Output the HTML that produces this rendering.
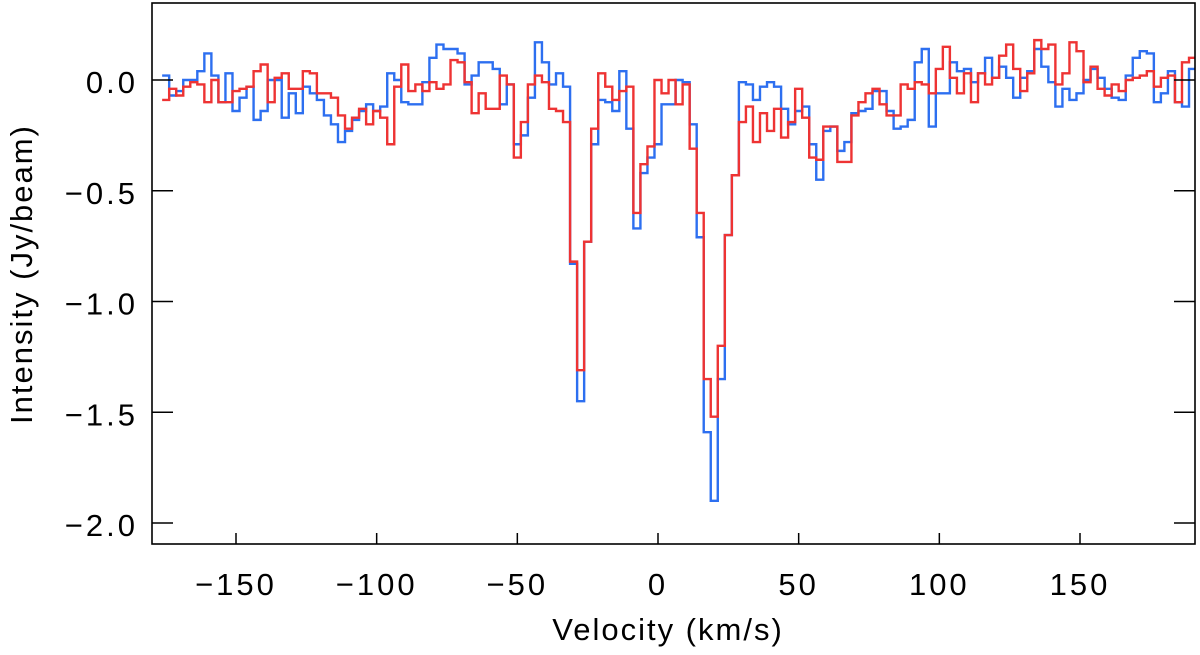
<!DOCTYPE html>
<html><head><meta charset="utf-8"><style>
html,body{margin:0;padding:0;background:#fff;}
svg text{font-family:"Liberation Sans","DejaVu Sans",sans-serif;fill:#000;}
</style></head><body>
<svg id="chart" width="1200" height="650" viewBox="0 0 1200 650" xmlns="http://www.w3.org/2000/svg">
<defs><clipPath id="plotclip"><rect x="152" y="3" width="1043" height="541"/></clipPath></defs>
<g id="series" clip-path="url(#plotclip)"></g>
<g id="axes"></g>
</svg>
<script>
const vStart = -175;
const vStep = 2.5;
const xTicks = [-150, -100, -50, 0, 50, 100, 150];
const xTickLabels = ["\u2212150", "\u2212100", "\u221250", "0", "50", "100", "150"];
const yTicks = [0, -0.5, -1, -1.5, -2];
const yTickLabels = ["0.0", "\u22120.5", "\u22121.0", "\u22121.5", "\u22122.0"];
const blueValues = [0.02,-0.07,-0.05,0,0,0.04,0.12,0.02,-0.10,0.03,-0.14,-0.08,-0.03,-0.18,-0.14,0,0,-0.17,-0.06,-0.15,-0.03,-0.06,-0.09,-0.16,-0.20,-0.28,-0.23,-0.18,-0.14,-0.11,-0.14,-0.12,0.03,0,-0.10,
-0.11,-0.11,-0.01,0.10,0.16,0.14,0.14,0.12,-0.02,0.02,0.08,0.08,0.05,-0.11,-0.02,-0.29,-0.25,-0.08,0.17,0.08,-0.02,0.03,-0.03,-0.83,-1.45,-0.73,-0.29,-0.09,-0.10,-0.14,0.04,-0.22,-0.67,-0.42,-0.35,-0.29,-0.11,-0.11,0,-0.01,-0.20,-0.71,-1.59,-1.9,-1.35,-0.7,-0.43,-0.01,-0.02,-0.09,-0.03,-0.01,-0.03,-0.13,-0.20,-0.14,-0.12,-0.29,-0.45,-0.23,-0.21,-0.32,-0.28,-0.15,-0.14,-0.13,-0.05,-0.05,-0.14,-0.22,-0.21,-0.18,0.08,0.14,-0.21,-0.06,-0.06,0.08,0.04,0.05,-0.01,0.03,0.10,0.01,0.06,0.01,-0.08,0.01,0.04,0.14,0.06,-0.01,-0.12,-0.04,-0.09,-0.06,0,0.05,0.01,-0.04,-0.08,-0.09,0.02,0.10,0.13,0.12,-0.10,-0.06,0.04,-0.10,-0.12,0.05];
const redValues = [-0.09,-0.04,-0.07,-0.03,-0.01,-0.02,-0.10,0,-0.10,-0.10,-0.05,-0.04,-0.03,0.04,0.07,-0.10,0.01,0.03,-0.04,-0.04,0.04,0.03,-0.06,-0.06,-0.08,-0.16,-0.22,-0.17,-0.13,-0.20,-0.14,-0.17,-0.29,-0.03,0.07,
-0.05,-0.02,-0.05,-0.01,-0.04,-0.02,0.09,0.08,-0.01,-0.15,-0.06,-0.13,-0.13,0.02,-0.02,-0.35,-0.19,-0.02,0.02,-0.01,-0.13,-0.14,-0.19,-0.82,-1.31,-0.73,-0.22,0.03,-0.03,-0.09,-0.05,-0.03,-0.6,-0.38,-0.3,0,-0.06,0,-0.11,-0.02,-0.31,-0.6,-1.35,-1.52,-1.2,-0.7,-0.43,-0.19,-0.12,-0.28,-0.15,-0.23,-0.13,-0.26,-0.19,-0.04,-0.17,-0.35,-0.36,-0.21,-0.21,-0.37,-0.37,-0.16,-0.10,-0.06,-0.04,-0.11,-0.16,-0.16,-0.02,-0.04,-0.01,-0.02,-0.06,0.05,0.15,0.01,-0.06,0.03,-0.10,0.03,-0.02,0.01,0.11,0.16,0.05,-0.05,0.03,0.18,0.14,0.16,-0.02,0.03,0.17,0.13,-0.01,0.06,-0.04,-0.07,-0.02,-0.05,0,0.01,0.02,0.04,-0.03,0.01,0.02,-0.10,0.08,0.10];

const NS = "http://www.w3.org/2000/svg";
const L = 152, R = 1195, T = 3, B = 544;
const xScale = v => 658 + (v) * (422 / 150);
const yScale = y => 80 - y * 221.5;
function mk(tag, attrs, parent) {
  const el = document.createElementNS(NS, tag);
  for (const k in attrs) el.setAttribute(k, attrs[k]);
  parent.appendChild(el);
  return el;
}
function stepPath(vals) {
  let d = "";
  vals.forEach((y, i) => {
    const v = vStart + i * vStep;
    const x0 = xScale(v - vStep / 2), x1 = xScale(v + vStep / 2), yy = yScale(y);
    d += (i === 0 ? "M" : "L") + x0.toFixed(2) + "," + yy.toFixed(2) + "L" + x1.toFixed(2) + "," + yy.toFixed(2);
  });
  return d;
}
const series = document.getElementById("series");
const pb = mk("path", {d: stepPath(blueValues), fill: "none", stroke: "#2d6ff0", "stroke-width": 2.4}, series);


const pr = mk("path", {d: stepPath(redValues), fill: "none", stroke: "#ee3333", "stroke-width": 2.4}, series);



const axes = document.getElementById("axes");
const frame = mk("rect", {x: L, y: T, width: R - L, height: B - T, fill: "none", stroke: "#000", "stroke-width": 1.6}, axes);


xTicks.forEach((v, i) => {
  const x = xScale(v);
  const t1 = mk("line", {x1: x, y1: B, x2: x, y2: B - 11, stroke: "#000", "stroke-width": 1.5}, axes);
  
  
  const t = mk("text", {x: x, y: 595, "text-anchor": "middle", "font-size": 31, "letter-spacing": 3}, axes);
  t.textContent = xTickLabels[i];
  
  
});
yTicks.forEach((v, i) => {
  const y = yScale(v);
  const t1 = mk("line", {x1: L, y1: y, x2: L + 21, y2: y, stroke: "#000", "stroke-width": 1.5}, axes);
  
  
  const t2 = mk("line", {x1: R, y1: y, x2: R - 21, y2: y, stroke: "#000", "stroke-width": 1.5}, axes);
  
  
  const t = mk("text", {x: 138, y: y + 13, "text-anchor": "end", "font-size": 31, "letter-spacing": 3}, axes);
  t.textContent = yTickLabels[i];
  
  
});
const xt = mk("text", {x: 668, y: 640, "text-anchor": "middle", "font-size": 31, "letter-spacing": 2}, axes);
xt.textContent = "Velocity (km/s)";


const yt = mk("text", {x: 0, y: 0, "text-anchor": "middle", "font-size": 31, "letter-spacing": 2, transform: "translate(32,274) rotate(-90)"}, axes);
yt.textContent = "Intensity (Jy/beam)";


</script>
</body></html>
